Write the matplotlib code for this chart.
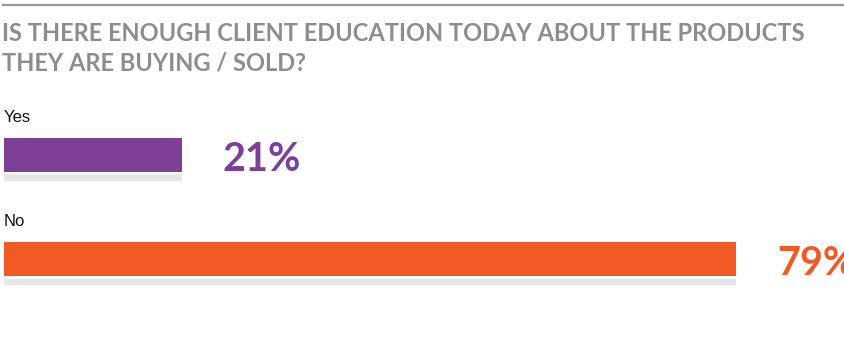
import matplotlib
matplotlib.use("Agg")
import matplotlib.pyplot as plt
from matplotlib import transforms
from matplotlib.lines import Line2D

# 数据
answers = ["Yes", "No"]
shares = [21, 79]
colors = ["#7E3F97", "#F15A24"]
title = "IS THERE ENOUGH CLIENT EDUCATION TODAY ABOUT THE PRODUCTS\nTHEY ARE BUYING / SOLD?"

W, H, DPI = 844, 338, 100
fig = plt.figure(figsize=(W / DPI, H / DPI), dpi=DPI)
fig.patch.set_facecolor("white")

# 顶部分隔线 + 标题
fig.add_artist(Line2D([3 / W, 843 / W], [1 - 4.5 / H, 1 - 4.5 / H],
                      color="#9a9a9a", lw=1.6))
fig.text(2 / W, 1 - 22 / H, title, family=["Lato", "DejaVu Sans"],
         fontweight="bold", fontsize=17, color="#8d8d8d",
         va="top", ha="left", linespacing=1.33)

# 条形区:轴左缘=像素 4,0 点落在轴外(条形起点被裁切)
ax = fig.add_axes([4 / W, 1 - 300 / H, 840 / W, 200 / H])
ax.set_xlim(2.37, 2.37 + 840 / 9.55)
ax.set_ylim(1.388, -0.526)
ax.set_axis_off()

ypos = list(range(len(answers)))
ax.barh([y + 0.215 for y in ypos], shares, height=0.064, color="#E6E6E6")
ax.barh(ypos, shares, height=0.325, color=colors)

lab_tr = transforms.blended_transform_factory(ax.transAxes, ax.transData)
for y, a, v, c in zip(ypos, answers, shares, colors):
    ax.text(0.0, y - 0.36, a, transform=lab_tr, family="Liberation Sans",
            fontsize=12, color="#111111", va="center", ha="left")
    ax.annotate(f"{v}%", xy=(v, y), xytext=(41, -16), textcoords="offset pixels",
                family=["Lato", "DejaVu Sans"], fontweight="bold", fontsize=28.5,
                color=c, va="baseline", ha="left", annotation_clip=False)

fig.savefig("out.png", dpi=DPI, facecolor="white")
